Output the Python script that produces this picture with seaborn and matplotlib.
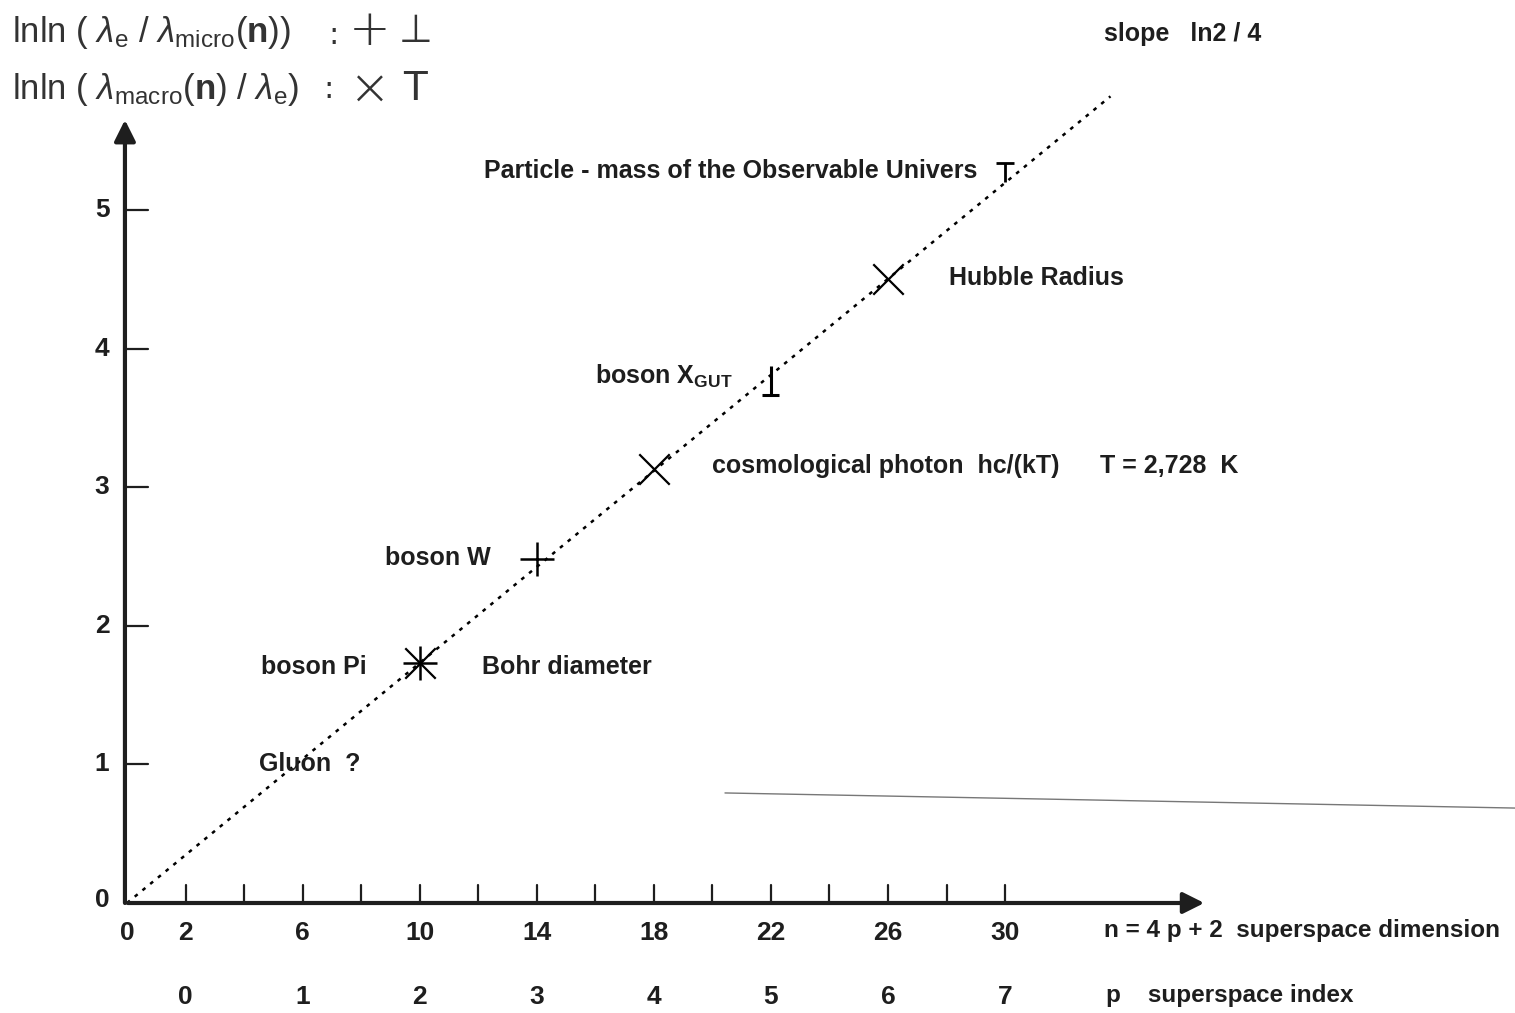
import numpy as np
import matplotlib.pyplot as plt
from matplotlib.path import Path
import seaborn as sns

# --- data ---
slope_line_n = [0, 33.6]
slope_line_y = [0, 5.82]

micro_plus_n = [10, 14]
micro_plus_y = [1.73, 2.48]
micro_perp_n = [22]
micro_perp_y = [3.77]

macro_x_n = [10, 18, 26]
macro_x_y = [1.73, 3.13, 4.50]
macro_top_n = [30]
macro_top_y = [5.27]

n_ticks = list(range(2, 31, 2))
n_labels = [0, 2, 6, 10, 14, 18, 22, 26, 30]
p_labels = [0, 1, 2, 3, 4, 5, 6, 7]
y_ticks = [1, 2, 3, 4, 5]

# pixel -> data frame of the scan: n=0 at px 127, 29.27 px/unit; y=0 at py 903, 138.6 px/unit
XMIN, XMAX = -127 / 29.27, (1515 - 127) / 29.27
YMIN, YMAX = -(1013 - 903) / 138.6, 903 / 138.6

sns.set_theme(style="white")
plt.rcParams['font.family'] = ['Liberation Sans', 'DejaVu Sans']
plt.rcParams['mathtext.fontset'] = 'custom'
plt.rcParams['mathtext.rm'] = 'Liberation Sans'
plt.rcParams['mathtext.it'] = 'Liberation Sans:italic'
plt.rcParams['mathtext.bf'] = 'Liberation Sans:bold'

fig = plt.figure(figsize=(15.15, 10.13), dpi=100)
ax = fig.add_axes([0, 0, 1, 1])
ax.set_xlim(XMIN, XMAX)
ax.set_ylim(YMIN, YMAX)
ax.axis('off')

ink = '#1e1e1e'

# axes with arrows
ax.annotate("", xy=(36.9, 0), xytext=(-0.07, 0),
            arrowprops=dict(arrowstyle='-|>', lw=3, color=ink, mutation_scale=32))
ax.annotate("", xy=(-0.07, 5.67), xytext=(-0.07, -0.02),
            arrowprops=dict(arrowstyle='-|>', lw=3, color=ink, mutation_scale=32))

# ticks
for t in n_ticks:
    ax.plot([t, t], [0, 0.13], color=ink, lw=1.6)
for t in y_ticks:
    ax.plot([-0.07, 0.72], [t, t], color=ink, lw=1.6)
    ax.text(-0.85, t, str(t), ha='center', va='center', fontsize=19, fontweight='bold', color=ink)
ax.text(-0.85, 0.02, "0", ha='center', va='center', fontsize=19, fontweight='bold', color=ink)

for v in n_labels:
    ax.text(v, -0.22, str(v), ha='center', va='center', fontsize=19, fontweight='bold', color=ink)
for p in p_labels:
    ax.text(4 * p + 2, -0.68, str(p), ha='center', va='center', fontsize=19, fontweight='bold', color=ink)

ax.text(33.38, -0.2, "n = 4 p + 2  superspace dimension", ha='left', va='center',
        fontsize=17.5, fontweight='bold', color=ink)
ax.text(33.45, -0.67, "p    superspace index", ha='left', va='center',
        fontsize=17.5, fontweight='bold', color=ink)

# dotted slope line
sns.lineplot(x=slope_line_n, y=slope_line_y, ax=ax, color='black', lw=1.8,
             linestyle=(0, (1.5, 2.5)), legend=False)

# markers
perp = Path([(-0.6, -1), (0.6, -1), (0, -1), (0, 1)],
            [Path.MOVETO, Path.LINETO, Path.MOVETO, Path.LINETO])
tee = Path([(-0.95, 1), (0.95, 1), (0, 1), (0, -1)],
           [Path.MOVETO, Path.LINETO, Path.MOVETO, Path.LINETO])

sns.scatterplot(x=micro_plus_n, y=micro_plus_y, ax=ax, marker='+', s=620,
                color='black', linewidth=1.8, legend=False)
sns.scatterplot(x=micro_perp_n, y=micro_perp_y, ax=ax, marker=perp, s=420,
                facecolor='none', edgecolor='black', linewidth=2.2, legend=False)
sns.scatterplot(x=macro_x_n, y=macro_x_y, ax=ax, marker='x', s=480,
                color='black', linewidth=1.6, legend=False)
sns.scatterplot(x=macro_top_n, y=macro_top_y, ax=ax, marker=tee, s=190,
                facecolor='none', edgecolor='black', linewidth=2.0, legend=False)

# annotations
lab = dict(ha='left', va='center', fontsize=18, fontweight='bold', color=ink)
ax.text(12.2, 5.28, "Particle - mass of the Observable Univers", **lab)
ax.text(28.1, 4.51, "Hubble Radius", **lab)
ax.text(16.0, 3.80, r"boson X$_{\mathregular{GUT}}$", **lab)
ax.text(19.99, 3.15, "cosmological photon  hc/(kT)", **lab)
ax.text(33.24, 3.15, "T = 2,728  K", **lab)
ax.text(8.81, 2.49, "boson W", **lab)
ax.text(4.58, 1.70, "boson Pi", **lab)
ax.text(12.13, 1.70, "Bohr diameter", **lab)
ax.text(4.51, 1.00, "Gluon  ?", **lab)
ax.text(33.38, 6.27, "slope   ln2 / 4", **lab)

# header legend: formula in Liberation, symbols in DejaVu (has the up tack glyph)
hdr = dict(ha='left', va='center', fontsize=25, color='#333')
ax.text(-3.93, 6.28, r"lnln ( $\mathit{\lambda}_{\mathregular{e}}$ / $\mathit{\lambda}_{\mathregular{micro}}$($\mathbf{n}$))", **hdr)
ax.text(-3.93, 5.87, r"lnln ( $\mathit{\lambda}_{\mathregular{macro}}$($\mathbf{n}$) / $\mathit{\lambda}_{\mathregular{e}}$)", **hdr)
sym = dict(ha='center', va='center', color='#333', family=['DejaVu Sans'])
ax.text(7.05, 6.26, ":", fontsize=22, **sym)
ax.text(8.3, 6.29, "+", fontsize=36, fontweight='light', **sym)
ax.text(9.85, 6.29, "⊥", fontsize=28, **sym)
ax.text(6.9, 5.87, ":", fontsize=22, **sym)
ax.text(8.3, 5.87, "×", fontsize=36, fontweight='light', **sym)
ax.text(9.85, 5.87, "T", fontsize=28, **sym)

# stray line on the scanned page
ax.plot([20.43, XMAX], [0.794, 0.685], color='#777', lw=1.0)

fig.savefig("out.png", dpi=100, facecolor='white')
